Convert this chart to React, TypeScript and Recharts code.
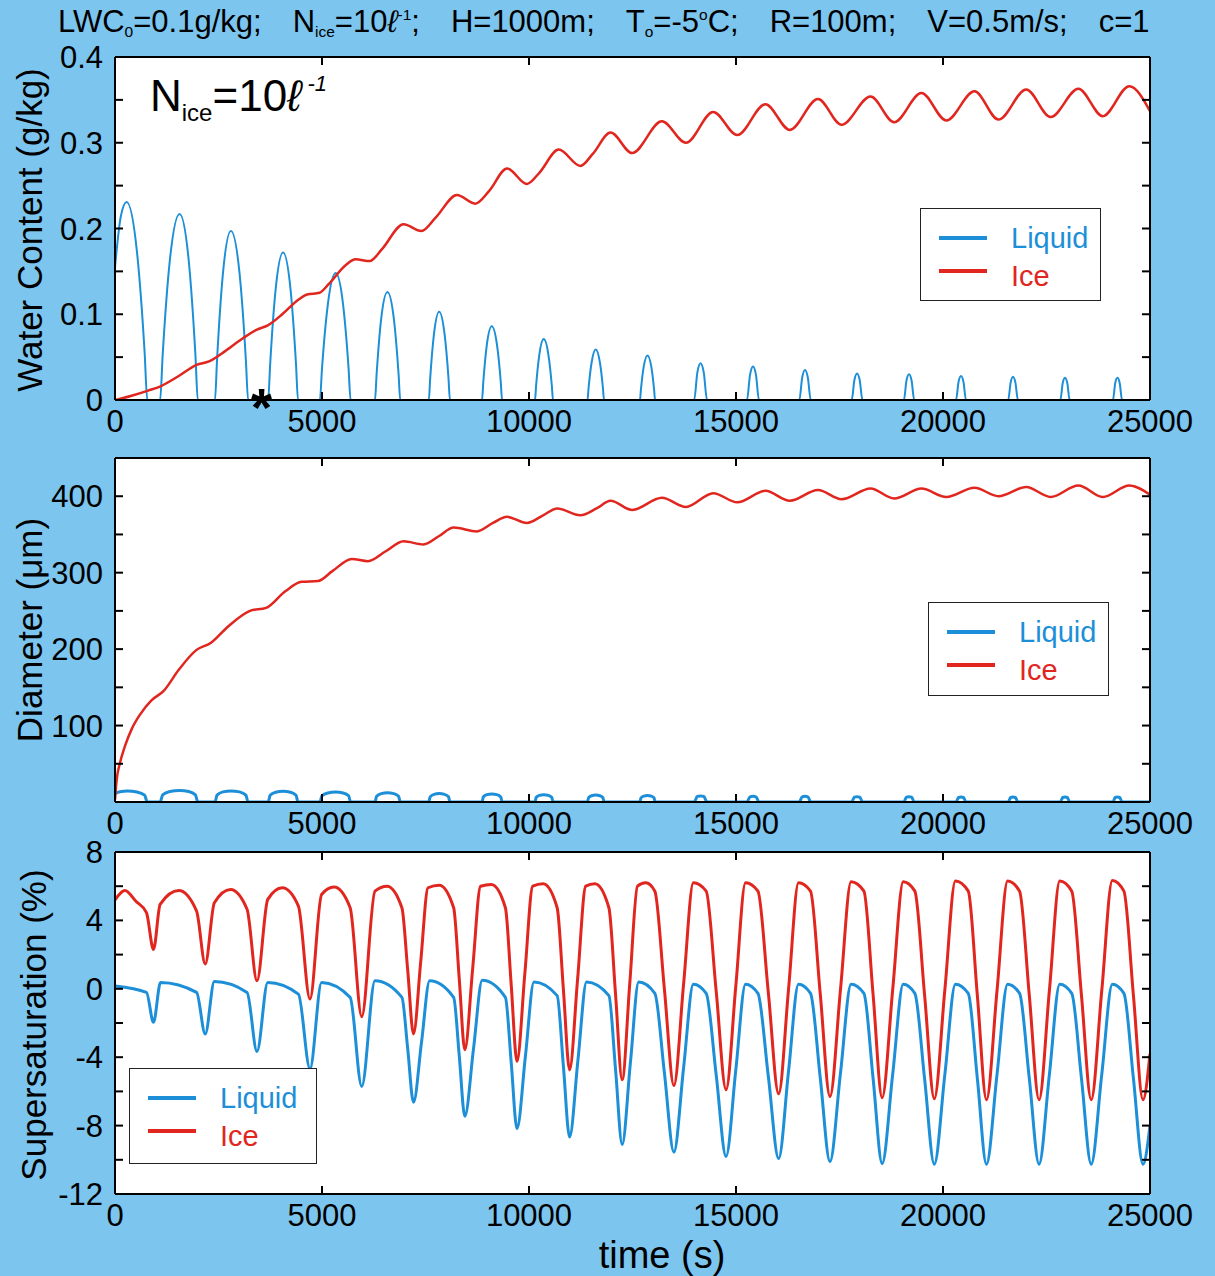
import React from "react";
import { LineChart, Line, XAxis, YAxis } from "recharts";

const BLUE = "#1c8fd8";
const RED = "#e0261e";
const BG = "#7cc5ef";
const FONT = "'Liberation Sans', Arial, Helvetica, sans-serif";

type Pair = [number, number];

// shared time axis (s)
const timeTicks = [0, 5000, 10000, 15000, 20000, 25000];

// panel 1 - water content (g/kg)
const wcTicks = [0, 0.05, 0.1, 0.15, 0.2, 0.25, 0.3, 0.35, 0.4];
const wcTickLabels = ["0", "", "0.1", "", "0.2", "", "0.3", "", "0.4"];

const liquidWC: Pair[] = [
  [0, 0.155], [140, 0.214], [280, 0.231], [530, 0.173], [715, 0.056], [780, 0],
  [1090, 0], [1151, 0.052], [1325, 0.163], [1560, 0.217], [1780, 0.163], [1943, 0.052], [2000, 0],
  [2415, 0], [2465, 0.047], [2608, 0.148], [2800, 0.197], [3008, 0.148], [3161, 0.047], [3215, 0],
  [3700, 0], [3747, 0.041], [3880, 0.129], [4060, 0.172], [4240, 0.129], [4373, 0.041], [4420, 0],
  [4950, 0], [4999, 0.036], [5140, 0.111], [5330, 0.148], [5510, 0.111], [5643, 0.036], [5690, 0],
  [6280, 0], [6319, 0.03], [6430, 0.095], [6580, 0.126], [6735, 0.095], [6850, 0.03], [6890, 0],
  [7580, 0], [7613, 0.025], [7705, 0.077], [7830, 0.103], [7960, 0.077], [8056, 0.025], [8090, 0],
  [8865, 0], [8896, 0.021], [8983, 0.065], [9100, 0.086], [9225, 0.065], [9318, 0.021], [9350, 0],
  [10145, 0], [10172, 0.017], [10250, 0.053], [10355, 0.071], [10468, 0.053], [10551, 0.017], [10580, 0],
  [11413, 0], [11439, 0.014], [11513, 0.044], [11612, 0.059], [11712, 0.044], [11786, 0.014], [11812, 0],
  [12680, 0], [12704, 0.0125], [12771, 0.039], [12862, 0.052], [12954, 0.039], [13021, 0.0125], [13045, 0],
  [13990, 0], [14066, 0.032], [14143, 0.043], [14222, 0.032], [14300, 0],
  [15265, 0], [15338, 0.029], [15411, 0.039], [15483, 0.029], [15555, 0],
  [16530, 0], [16598, 0.026], [16667, 0.035], [16736, 0.026], [16805, 0],
  [17795, 0], [17859, 0.023], [17923, 0.031], [17989, 0.023], [18055, 0],
  [19055, 0], [19117, 0.0225], [19179, 0.03], [19242, 0.0225], [19305, 0],
  [20315, 0], [20375, 0.021], [20435, 0.028], [20495, 0.021], [20555, 0],
  [21575, 0], [21633, 0.02], [21691, 0.027], [21750, 0.02], [21810, 0],
  [22835, 0], [22891, 0.0195], [22947, 0.026], [23003, 0.0195], [23060, 0],
  [24105, 0], [24159, 0.0195], [24213, 0.026], [24269, 0.0195], [24325, 0],
  [25000, 0],
];

const iceWC: Pair[] = [
  [0, 0], [400, 0.005], [800, 0.011], [1100, 0.016], [1540, 0.028], [1970, 0.041], [2270, 0.045],
  [2660, 0.057], [3090, 0.072], [3430, 0.082], [3690, 0.087], [4040, 0.1], [4430, 0.117], [4640, 0.123],
  [4940, 0.125], [5160, 0.135], [5590, 0.158], [5810, 0.164], [6150, 0.162], [6450, 0.176], [6970, 0.205],
  [7400, 0.197], [7750, 0.213], [8260, 0.239], [8700, 0.229], [9040, 0.244], [9470, 0.27], [9950, 0.252],
  [10250, 0.265], [10720, 0.292], [11240, 0.273], [11540, 0.287], [11970, 0.312], [12490, 0.288],
  [13210, 0.325], [13790, 0.3], [14450, 0.336], [15030, 0.309], [15710, 0.345], [16300, 0.315],
  [16980, 0.351], [17550, 0.321], [18250, 0.354], [18820, 0.324], [19480, 0.358], [20080, 0.326],
  [20760, 0.36], [21340, 0.327], [22010, 0.362], [22600, 0.33], [23270, 0.363], [23860, 0.331],
  [24500, 0.366], [25000, 0.337],
];

// panel 2 - diameter (um)
const diamTicks = [0, 50, 100, 150, 200, 250, 300, 350, 400, 450];
const diamTickLabels = ["", "", "100", "", "200", "", "300", "", "400", ""];

const liquidDiam: Pair[] = [
  [0, 11], [120, 13.5], [300, 14.5], [530, 13.2], [715, 9], [780, 0],
  [1090, 0], [1151, 9.3], [1325, 13.7], [1560, 15], [1780, 13.7], [1943, 9.3], [2000, 0],
  [2415, 0], [2465, 9], [2608, 13.2], [2800, 14.5], [3008, 13.2], [3161, 9], [3215, 0],
  [3700, 0], [3747, 8.7], [3880, 12.7], [4060, 14], [4240, 12.7], [4373, 8.7], [4420, 0],
  [4950, 0], [4999, 8.1], [5140, 11.8], [5330, 13], [5510, 11.8], [5643, 8.1], [5690, 0],
  [6280, 0], [6319, 7.4], [6430, 10.9], [6580, 12], [6735, 10.9], [6850, 7.4], [6890, 0],
  [7580, 0], [7613, 6.8], [7705, 10], [7830, 11], [7960, 10], [8056, 6.8], [8090, 0],
  [8865, 0], [8896, 6.5], [8983, 9.6], [9100, 10.5], [9225, 9.6], [9318, 6.5], [9350, 0],
  [10145, 0], [10172, 5.9], [10250, 8.6], [10355, 9.5], [10468, 8.6], [10551, 5.9], [10580, 0],
  [11413, 0], [11439, 5.6], [11513, 8.2], [11612, 9], [11712, 8.2], [11786, 5.6], [11812, 0],
  [12680, 0], [12704, 5.3], [12771, 7.7], [12862, 8.5], [12954, 7.7], [13021, 5.3], [13045, 0],
  [13990, 0], [14066, 7.3], [14143, 8], [14222, 7.3], [14300, 0],
  [15265, 0], [15338, 6.8], [15411, 7.5], [15483, 6.8], [15555, 0],
  [16530, 0], [16598, 6.8], [16667, 7.5], [16736, 6.8], [16805, 0],
  [17795, 0], [17859, 6.4], [17923, 7], [17989, 6.4], [18055, 0],
  [19055, 0], [19117, 6.4], [19179, 7], [19242, 6.4], [19305, 0],
  [20315, 0], [20375, 5.9], [20435, 6.5], [20495, 5.9], [20555, 0],
  [21575, 0], [21633, 5.9], [21691, 6.5], [21750, 5.9], [21810, 0],
  [22835, 0], [22891, 5.9], [22947, 6.5], [23003, 5.9], [23060, 0],
  [24105, 0], [24159, 5.9], [24213, 6.5], [24269, 5.9], [24325, 0],
  [25000, 0],
];

const iceDiam: Pair[] = [
  [0, 3], [40, 29], [120, 51], [240, 73], [400, 95], [600, 114], [880, 133], [1170, 145], [1540, 173],
  [1970, 199], [2310, 208], [2740, 230], [3260, 250], [3650, 254], [4120, 276], [4510, 288], [4900, 289],
  [5250, 302], [5720, 318], [6110, 315], [6540, 328], [6970, 341], [7450, 337], [7830, 348], [8180, 359],
  [8740, 354], [9130, 365], [9470, 373], [9950, 365], [10340, 375], [10680, 384], [11240, 375],
  [11630, 384], [11970, 394], [12490, 382], [13210, 398], [13790, 386], [14450, 404], [15030, 392],
  [15710, 407], [16300, 394], [16980, 408], [17550, 396], [18250, 410], [18820, 397], [19480, 410],
  [20080, 399], [20760, 411], [21340, 400], [22010, 412], [22600, 399], [23270, 414], [23860, 399],
  [24500, 414], [25000, 402],
];

// panel 3 - supersaturation (%)
const ssTicks = [-12, -10, -8, -6, -4, -2, 0, 2, 4, 6, 8];
const ssTickLabels = ["-12", "", "-8", "", "-4", "", "0", "", "4", "", "8"];

const liquidSS: Pair[] = [
  [0, 0.17], [760, -0.21], [930, -1.96], [1100, 0.37], [1970, -0.21], [2180, -2.64], [2400, 0.43],
  [3190, -0.21], [3430, -3.66], [3690, 0.37], [4430, -0.31], [4710, -4.68], [4990, 0.37], [5680, -0.5],
  [5960, -5.71], [6280, 0.47], [6930, -0.5], [7070, -3.5], [7210, -6.63], [7405, -3.1], [7600, 0.47],
  [8180, -0.5], [8315, -3.9], [8450, -7.46], [8660, -3.5], [8870, 0.5], [9430, -0.5], [9570, -4.3],
  [9710, -8.18], [9915, -3.9], [10120, 0.4], [10680, -0.4], [10830, -4.5], [10980, -8.67], [11185, -4.1],
  [11390, 0.4], [11930, -0.4], [12090, -4.7], [12250, -9.1], [12450, -4.3], [12650, 0.4], [13040, -0.27],
  [13270, -4.9], [13500, -9.55], [13735, -4.6], [13970, 0.27], [14280, -0.27], [14520, -5.0], [14760, -9.8],
  [14995, -4.75], [15230, 0.27], [15530, -0.27], [15780, -5.1], [16030, -9.93], [16270, -4.8], [16510, 0.27],
  [16800, -0.27], [17035, -5.2], [17270, -10.1], [17525, -4.9], [17780, 0.27], [18090, -0.27], [18310, -5.2],
  [18530, -10.22], [18785, -5.0], [19040, 0.27], [19320, -0.27], [19555, -5.25], [19790, -10.26],
  [20045, -5.0], [20300, 0.27], [20610, -0.27], [20830, -5.25], [21050, -10.26], [21305, -5.0],
  [21560, 0.27], [21850, -0.27], [22085, -5.25], [22320, -10.26], [22570, -5.0], [22820, 0.27],
  [23110, -0.27], [23345, -5.25], [23580, -10.26], [23835, -5.0], [24090, 0.27], [24370, -0.27],
  [24600, -5.25], [24830, -10.26], [25000, -8.0],
];

const iceSS: Pair[] = [
  [0, 5.2], [240, 5.75], [500, 5.13], [760, 4.45], [930, 2.3], [1090, 4.94], [1540, 5.75], [1970, 4.55],
  [2180, 1.45], [2400, 5.03], [2790, 5.81], [3190, 4.65], [3430, 0.47], [3690, 5.23], [4040, 5.91],
  [4430, 4.84], [4710, -0.6], [4990, 5.52], [5290, 5.95], [5680, 4.74], [5960, -1.63], [6280, 5.71],
  [6570, 6.0], [6930, 4.74], [7070, 1.1], [7210, -2.64], [7385, 1.6], [7560, 5.91], [7830, 6.06],
  [8180, 4.74], [8315, 0.6], [8450, -3.57], [8640, 1.2], [8830, 6.0], [9090, 6.1], [9430, 4.74],
  [9570, 0.25], [9710, -4.24], [9900, 0.9], [10090, 6.0], [10340, 6.14], [10680, 4.74], [10830, 0],
  [10980, -4.74], [11175, 0.6], [11370, 6.0], [11590, 6.14], [11930, 4.74], [12090, -0.3], [12250, -5.32],
  [12435, 0.35], [12620, 6.0], [12820, 6.2], [13040, 5.71], [13270, 0], [13500, -5.66], [13735, 0.3],
  [13970, 6.2], [14280, 5.71], [14520, -0.1], [14760, -5.9], [14995, 0.15], [15230, 6.2], [15530, 5.71],
  [15780, -0.2], [16030, -6.14], [16270, 0], [16510, 6.2], [16800, 5.71], [17035, -0.3], [17270, -6.3],
  [17525, 0], [17780, 6.26], [18090, 5.71], [18310, -0.3], [18530, -6.37], [18785, -0.05], [19040, 6.26],
  [19320, 5.71], [19555, -0.35], [19790, -6.43], [20045, -0.05], [20300, 6.3], [20610, 5.71],
  [20830, -0.4], [21050, -6.49], [21305, -0.1], [21560, 6.3], [21850, 5.71], [22085, -0.4], [22320, -6.49],
  [22570, -0.1], [22820, 6.3], [23110, 5.71], [23345, -0.4], [23580, -6.49], [23835, -0.1], [24090, 6.34],
  [24370, 5.71], [24600, -0.4], [24830, -6.49], [25000, -3.8],
];

const legendItems = [
  { name: "Liquid", color: BLUE },
  { name: "Ice", color: RED },
];

const pts = (p: Pair[]) => p.map(([t, v]) => ({ t, v }));

const axisStroke = { stroke: "#000", strokeWidth: 2 };
const TICK = 8;
const labelStyle = { fill: "#000", fontSize: 31, fontFamily: FONT };

// MATLAB-style ticks: marks point into the plot, labels sit outside
const BottomTick = ({ x, y, payload }: any) => (
  <g>
    <line x1={x} y1={y} x2={x} y2={y - TICK} stroke="#000" strokeWidth={2} />
    <text x={x} y={y + 32} textAnchor="middle" {...labelStyle}>
      {payload.value}
    </text>
  </g>
);
const TopTick = ({ x, y }: any) => (
  <line x1={x} y1={y} x2={x} y2={y + TICK} stroke="#000" strokeWidth={2} />
);
const RightTick = ({ x, y }: any) => (
  <line x1={x} y1={y} x2={x - TICK} y2={y} stroke="#000" strokeWidth={2} />
);
const leftTick = (ticks: number[], labels: string[]) => ({ x, y, payload }: any) => (
  <g>
    <line x1={x} y1={y} x2={x + TICK} y2={y} stroke="#000" strokeWidth={2} />
    <text x={x - 12} y={y + 11} textAnchor="end" {...labelStyle}>
      {labels[ticks.indexOf(payload.value)]}
    </text>
  </g>
);

type PanelProps = {
  top: number;
  height: number;
  marginTop: number;
  yDomain: [number, number];
  yTicks: number[];
  yLabels: string[];
  liquid: Pair[];
  ice: Pair[];
  liquidWidth: number;
  iceWidth: number;
};

function Panel(p: PanelProps) {
  // plot area in page pixels, used only for the white backdrop
  const plotTop = p.top + p.marginTop + 1;
  const plotBottom = p.top + p.height - 40;
  return (
    <>
      <div
        style={{
          position: "absolute",
          left: 115,
          top: plotTop,
          width: 1150 - 115,
          height: plotBottom - plotTop,
          background: "#fff",
        }}
      />
      <div style={{ position: "absolute", left: 0, top: p.top }}>
        <LineChart
          width={1215}
          height={p.height}
          margin={{ top: p.marginTop, right: 64, bottom: 0, left: 0 }}
        >
          <XAxis
            xAxisId="b"
            type="number"
            dataKey="t"
            domain={[0, 25000]}
            ticks={timeTicks}
            interval={0}
            allowDataOverflow
            height={40}
            tickSize={0}
            tickMargin={0}
            tick={BottomTick}
            axisLine={axisStroke}
            tickLine={false}
          />
          <XAxis
            xAxisId="top"
            orientation="top"
            type="number"
            dataKey="t"
            domain={[0, 25000]}
            ticks={timeTicks}
            interval={0}
            allowDataOverflow
            height={1}
            tickSize={0}
            tickMargin={0}
            tick={TopTick}
            axisLine={axisStroke}
            tickLine={false}
          />
          <YAxis
            yAxisId="l"
            type="number"
            domain={p.yDomain}
            ticks={p.yTicks}
            interval={0}
            allowDataOverflow
            width={115}
            tickSize={0}
            tickMargin={0}
            tick={leftTick(p.yTicks, p.yLabels)}
            axisLine={axisStroke}
            tickLine={false}
          />
          <YAxis
            yAxisId="r"
            orientation="right"
            type="number"
            domain={p.yDomain}
            ticks={p.yTicks}
            interval={0}
            allowDataOverflow
            width={1}
            tickSize={0}
            tickMargin={0}
            tick={RightTick}
            axisLine={axisStroke}
            tickLine={false}
          />
          {/* invisible copy bound to the top/right frame axes so they get ticks */}
          <Line
            xAxisId="top"
            yAxisId="r"
            data={pts(p.ice)}
            dataKey="v"
            stroke="none"
            dot={false}
            legendType="none"
            isAnimationActive={false}
          />
          <Line
            xAxisId="b"
            yAxisId="l"
            data={pts(p.liquid)}
            dataKey="v"
            type="monotone"
            stroke={BLUE}
            strokeWidth={p.liquidWidth}
            dot={false}
            isAnimationActive={false}
          />
          <Line
            xAxisId="b"
            yAxisId="l"
            data={pts(p.ice)}
            dataKey="v"
            type="monotone"
            stroke={RED}
            strokeWidth={p.iceWidth}
            dot={false}
            isAnimationActive={false}
          />
        </LineChart>
      </div>
    </>
  );
}

function LegendBox({ left, top, width, height }: { left: number; top: number; width: number; height: number }) {
  const lineRows = [29, 62];
  const textRows = [29, 67];
  return (
    <div
      style={{
        position: "absolute",
        left,
        top,
        width,
        height,
        background: "#fff",
        border: "1.5px solid #222",
        boxSizing: "border-box",
      }}
    >
      {legendItems.map((it, i) => (
        <React.Fragment key={it.name}>
          <div
            style={{
              position: "absolute",
              left: 18,
              top: lineRows[i] - 2,
              width: 48,
              height: 4,
              background: it.color,
            }}
          />
          <div
            style={{
              position: "absolute",
              left: 90,
              top: textRows[i] - 14,
              fontSize: 29,
              lineHeight: 1,
              color: it.color,
            }}
          >
            {it.name}
          </div>
        </React.Fragment>
      ))}
    </div>
  );
}

const Sub = ({ children }: { children: React.ReactNode }) => (
  <span style={{ fontSize: "0.5em", position: "relative", top: "0.3em" }}>{children}</span>
);
const Sup = ({ children }: { children: React.ReactNode }) => (
  <span style={{ fontSize: "0.5em", position: "relative", top: "-0.8em" }}>{children}</span>
);
const Gap = () => <span style={{ display: "inline-block", width: 31 }} />;

function AxisTitle({ x, y, text }: { x: number; y: number; text: string }) {
  return (
    <div
      style={{
        position: "absolute",
        left: x,
        top: y,
        transform: "translate(-50%, -50%) rotate(-90deg)",
        fontSize: 35,
        lineHeight: 1,
        whiteSpace: "nowrap",
      }}
    >
      {text}
    </div>
  );
}

export default function App() {
  return (
    <div
      style={{
        position: "absolute",
        left: 0,
        top: 0,
        width: 1215,
        height: 1276,
        background: BG,
        overflow: "hidden",
        fontFamily: FONT,
        color: "#000",
      }}
    >
      <div style={{ position: "absolute", left: 58, top: 6, fontSize: 31, lineHeight: 1, whiteSpace: "nowrap" }}>
        LWC<Sub>0</Sub>=0.1g/kg;
        <Gap />N<Sub>ice</Sub>=10<i>{"\u2113"}</i>
        <Sup>-1</Sup>;<Gap />H=1000m;
        <Gap />T<Sub>o</Sub>=-5<Sup>o</Sup>C;
        <Gap />R=100m;
        <Gap />V=0.5m/s;
        <Gap />c=1
      </div>

      <Panel
        top={0}
        height={440}
        marginTop={56}
        yDomain={[0, 0.4]}
        yTicks={wcTicks}
        yLabels={wcTickLabels}
        liquid={liquidWC}
        ice={iceWC}
        liquidWidth={2}
        iceWidth={2.5}
      />
      <Panel
        top={440}
        height={402}
        marginTop={17}
        yDomain={[0, 450]}
        yTicks={diamTicks}
        yLabels={diamTickLabels}
        liquid={liquidDiam}
        ice={iceDiam}
        liquidWidth={3}
        iceWidth={2.5}
      />
      <Panel
        top={830}
        height={404}
        marginTop={21}
        yDomain={[-12, 8]}
        yTicks={ssTicks}
        yLabels={ssTickLabels}
        liquid={liquidSS}
        ice={iceSS}
        liquidWidth={3}
        iceWidth={3}
      />

      <div style={{ position: "absolute", left: 150, top: 74, fontSize: 44, lineHeight: 1, whiteSpace: "nowrap" }}>
        N<span style={{ fontSize: 24, position: "relative", top: 10 }}>ice</span>=10
        <i>{"\u2113"}</i>
        <i style={{ fontSize: 22, position: "relative", top: -20 }}> -1</i>
      </div>
      <div style={{ position: "absolute", left: 251, top: 380, fontSize: 54, fontWeight: "bold", lineHeight: 1 }}>*</div>

      <LegendBox left={920} top={208} width={181} height={93} />
      <LegendBox left={928} top={602} width={181} height={94} />
      <LegendBox left={129} top={1068} width={188} height={96} />

      <AxisTitle x={29} y={230} text="Water Content (g/kg)" />
      <AxisTitle x={29} y={630} text={"Diameter (\u03bcm)"} />
      <AxisTitle x={33} y={1025} text="Supersaturation (%)" />
      <div
        style={{
          position: "absolute",
          left: 662,
          top: 1255,
          transform: "translate(-50%, -50%)",
          fontSize: 38,
          lineHeight: 1,
          whiteSpace: "nowrap",
        }}
      >
        time (s)
      </div>
    </div>
  );
}
